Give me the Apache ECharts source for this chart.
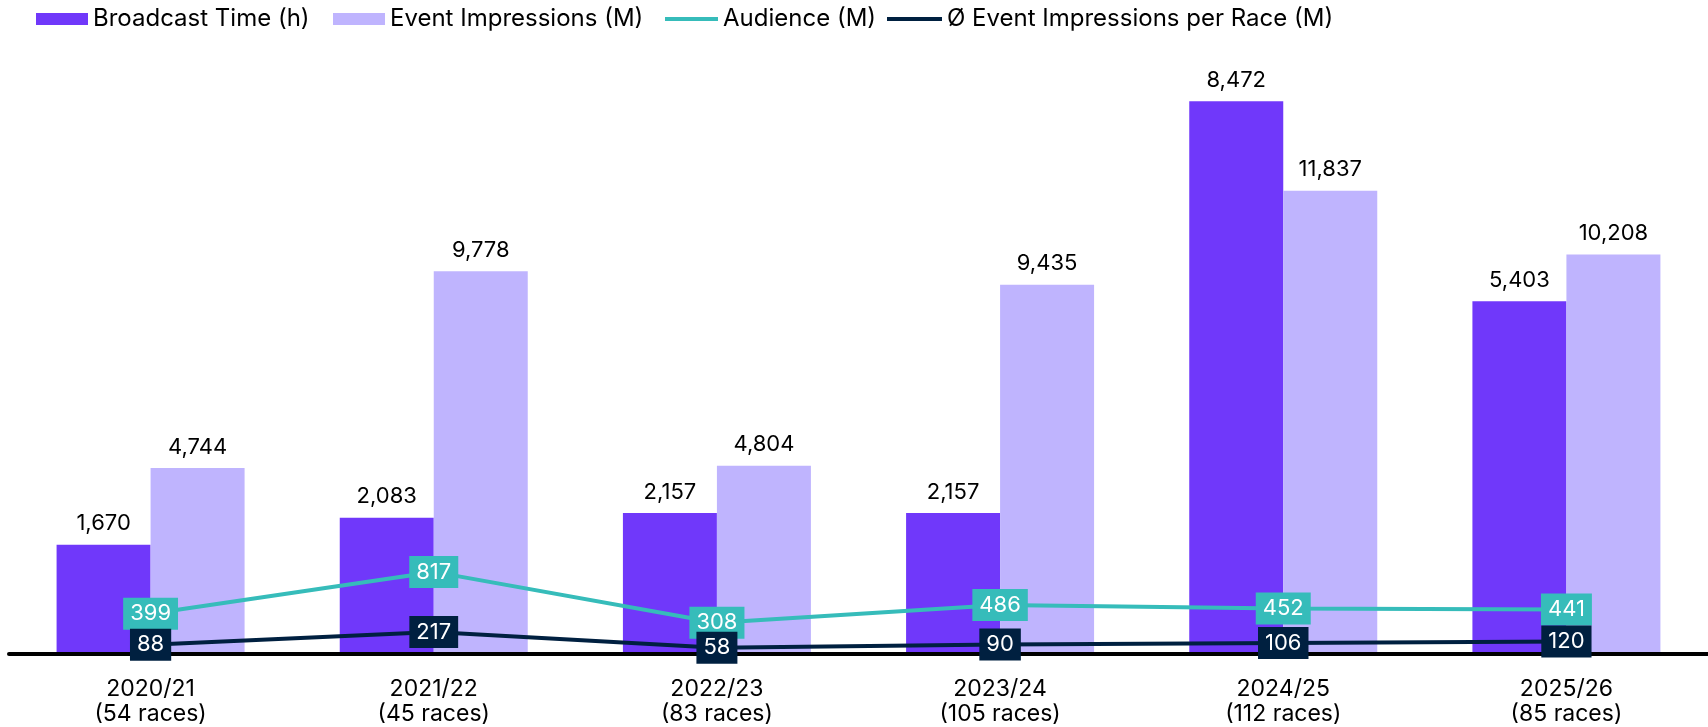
<!DOCTYPE html>
<html>
<head>
<meta charset="utf-8">
<script src="https://cdn.jsdelivr.net/npm/echarts@6/dist/echarts.min.js"></script>
<style>
  html, body { margin: 0; padding: 0; background: #fff; }
  #chart { width: 1708px; height: 727px; }
</style>
</head>
<body>
<div id="chart"></div>
<script>
const seasons = ["2020/21\n(54 races)", "2021/22\n(45 races)", "2022/23\n(83 races)",
  "2023/24\n(105 races)", "2024/25\n(112 races)", "2025/26\n(85 races)"];
const broadcastTime = [1670, 2083, 2157, 2157, 8472, 5403];
const eventImpressions = [4744, 9778, 4804, 9435, 11837, 10208];
const audience = [399, 817, 308, 486, 452, 441];
const perRace = [88, 217, 58, 90, 106, 120];

const FONT = "Inter";
const fmt = (p) => p.value.toLocaleString("en-US");

const chart = echarts.init(document.getElementById("chart"));

function boxLabel(bg) {
  return {
    show: true,
    position: "inside",
    color: "#fff",
    fontFamily: FONT,
    fontSize: 22,
    backgroundColor: bg,
    padding: [6, 7, 4, 7],
  };
}

function barLabel() {
  return {
    show: true,
    position: "top",
    distance: 10,
    color: "#000",
    fontSize: 22,
    fontFamily: FONT,
    formatter: fmt,
  };
}

// one legend per item so each sits where it does in the original
function legendItem(name, left, w, h) {
  return {
    left: left,
    top: 7,
    padding: 0,
    icon: "rect",
    itemWidth: w,
    itemHeight: h,
    textStyle: { fontSize: 24, color: "#000", fontFamily: FONT },
    data: [name],
  };
}

chart.setOption({
  animation: false,
  textStyle: { fontFamily: FONT },
  legend: [
    legendItem("Broadcast Time (h)", 36, 52, 12),
    legendItem("Event Impressions (M)", 333, 52, 12),
    legendItem("Audience (M)", 665, 53, 4),
    legendItem("Ø Event Impressions per Race (M)", 887, 55, 4),
  ],
  grid: { left: 9, right: 0, top: 80, bottom: 73.4 },
  xAxis: {
    type: "category",
    data: seasons,
    z: 5,
    axisLine: { lineStyle: { color: "#000", width: 4 } },
    axisTick: { show: false },
    axisLabel: {
      color: "#000",
      fontSize: 23,
      lineHeight: 25,
      margin: 23,
      fontFamily: FONT,
    },
  },
  yAxis: [
    { type: "value", min: 0, max: 8798, show: false, splitLine: { show: false } },
    { type: "value", min: 0, max: 14670, show: false, splitLine: { show: false } },
    { type: "value", min: 0, max: 5736, show: false, splitLine: { show: false } },
  ],
  series: [
    {
      name: "Broadcast Time (h)",
      type: "bar",
      yAxisIndex: 0,
      data: broadcastTime,
      barWidth: 94,
      barGap: "0%",
      itemStyle: { color: "#7038FA" },
      label: barLabel(),
    },
    {
      name: "Event Impressions (M)",
      type: "bar",
      yAxisIndex: 1,
      data: eventImpressions,
      barWidth: 94,
      barGap: "0%",
      itemStyle: { color: "#BFB4FE" },
      label: barLabel(),
    },
    {
      name: "Audience (M)",
      type: "line",
      yAxisIndex: 2,
      data: audience,
      symbol: "circle",
      symbolSize: 1,
      z: 6,
      lineStyle: { color: "#36BCBA", width: 4 },
      itemStyle: { color: "#36BCBA" },
      label: boxLabel("#36BCBA"),
    },
    {
      name: "Ø Event Impressions per Race (M)",
      type: "line",
      yAxisIndex: 2,
      data: perRace,
      symbol: "circle",
      symbolSize: 1,
      z: 7,
      lineStyle: { color: "#002040", width: 4 },
      itemStyle: { color: "#002040" },
      label: boxLabel("#002040"),
    },
  ],
});
</script>
</body>
</html>
